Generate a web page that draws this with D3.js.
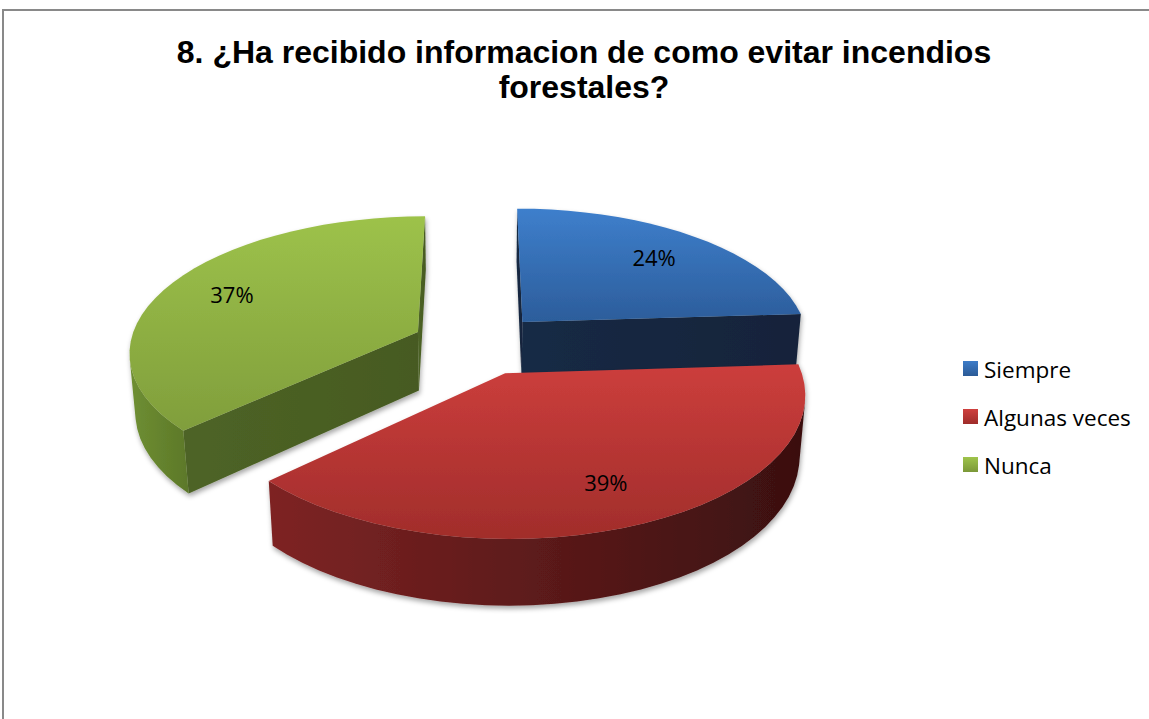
<!DOCTYPE html>
<html>
<head>
<meta charset="utf-8">
<script src="https://cdn.jsdelivr.net/npm/d3@7"></script>
<style>
  body { margin: 0; background: #fff; }
  svg { display: block; }
</style>
</head>
<body>
<div id="graf"></div>
<script>
// -- Datos del gráfico
categorias = ['Siempre', 'Algunas veces', 'Nunca']
valores = [24, 39, 37]
titulo = ['8. ¿Ha recibido informacion de como evitar incendios', 'forestales?']

// -- Colores por categoría
colores = {
  'Siempre':       { top: ['#3e7fcc', '#2c5d9b'], side: ['#22426f', '#14263f'], cut: ['#162a45', '#13233a'], leg: ['#3d7cc8', '#2b5a96'] },
  'Algunas veces': { top: ['#cc3e3c', '#a12d2b'], side: ['#7e2424', '#3a1010'], cut: ['#5c1919', '#4a1414'], leg: ['#cf403e', '#9e2c2a'] },
  'Nunca':         { top: ['#9dc24a', '#809e3c'], side: ['#6f8f32', '#5c7829'], cut: ['#4e6426', '#465a21'], leg: ['#9fc44b', '#7b9838'] }
}

ancho = 1149
alto = 719

svg = d3.select('#graf').append('svg')
        .attr('width', ancho)
        .attr('height', alto)

defs = svg.append('defs')

// -- Sombra suave bajo las porciones
sombra = defs.append('filter')
    .attr('id', 'sombra')
    .attr('x', '-10%').attr('y', '-10%')
    .attr('width', '120%').attr('height', '130%')
sombra.append('feDropShadow')
    .attr('dx', 1).attr('dy', 3)
    .attr('stdDeviation', 2.5)
    .attr('flood-color', '#000')
    .attr('flood-opacity', 0.35)

function gradiente(id, c, vertical) {
  const lg = defs.append('linearGradient')
      .attr('id', id)
      .attr('x1', 0).attr('y1', 0)
      .attr('x2', vertical ? 0 : 1).attr('y2', vertical ? 1 : 0)
  lg.append('stop').attr('offset', '0%').attr('stop-color', c[0])
  lg.append('stop').attr('offset', '100%').attr('stop-color', c[1])
}

categorias.forEach((c, i) => {
  gradiente(`top${i}`, colores[c].top, true)
  gradiente(`side${i}`, colores[c].side, false)
  gradiente(`cut${i}`, colores[c].cut, false)
  gradiente(`leg${i}`, colores[c].leg, true)
})

// -- Marco del gráfico
svg.append('rect')
    .attr('x', 3).attr('y', 10)
    .attr('width', ancho + 20).attr('height', alto + 20)
    .attr('fill', 'none')
    .attr('stroke', '#898989')
    .attr('stroke-width', 2)

// -- Título
svg.append('text')
    .attr('x', 584)
    .attr('text-anchor', 'middle')
    .attr('font-family', '"Liberation Sans", Arial, sans-serif')
    .attr('font-weight', 'bold')
    .attr('font-size', '32px')
    .attr('fill', '#000')
  .selectAll('tspan')
  .data(titulo)
  .join('tspan')
    .attr('x', 584)
    .attr('y', (d, i) => 63 + i * 35)
    .text(d => d)

// -- Proyección 3D (perspectiva)
cx = 478
cy = 344
focal = 1870
dist = 6.49
phi = 27.8 * Math.PI / 180
alturaPie = 0.236
separacion = 0.23
radioEtiqueta = 0.75
pasos = 90

cam = [0, dist * Math.sin(phi), -dist * Math.cos(phi)]

function proj(p) {
  const [X, Y, Z] = p
  const yc = Y * Math.cos(phi) + Z * Math.sin(phi)
  const zc = Z * Math.cos(phi) - Y * Math.sin(phi)
  const s = focal / (dist + zc)
  return [cx + X * s, cy - yc * s]
}

function visible(n, p) {
  return n[0] * (cam[0] - p[0]) + n[1] * (cam[1] - p[1]) + n[2] * (cam[2] - p[2]) > 0
}

linea = d3.line()

arcos = d3.pie().sort(null).value(d => d)(valores)

porciones = arcos.map((d, i) => {
  const mid = (d.startAngle + d.endAngle) / 2
  const ox = separacion * Math.sin(mid)
  const oz = separacion * Math.cos(mid)
  const pt = (a, r, y) => [ox + r * Math.sin(a), y, oz + r * Math.cos(a)]
  return { d, i, mid, ox, oz, pt }
})

// -- Se dibuja de atrás hacia adelante
orden = porciones.slice().sort((a, b) => b.oz - a.oz)

orden.forEach(p => {
  const { d, i, pt } = p
  const a0 = d.startAngle, a1 = d.endAngle
  const g = svg.append('g').attr('filter', 'url(#sombra)')
  const H = -alturaPie

  // caras radiales
  const cortes = [
    { a: a0, n: [-Math.cos(a0), 0, Math.sin(a0)] },
    { a: a1, n: [Math.cos(a1), 0, -Math.sin(a1)] }
  ]
  cortes.forEach(c => {
    const centro = pt(c.a, 0.5, H / 2)
    if (!visible(c.n, centro)) return
    const quad = [pt(c.a, 0, 0), pt(c.a, 1, 0), pt(c.a, 1, H), pt(c.a, 0, H)].map(proj)
    g.append('path')
        .attr('d', linea(quad) + 'Z')
        .attr('fill', `url(#cut${i})`)
  })

  // pared exterior (solo tramos visibles)
  const n = Math.max(2, Math.ceil(pasos * (a1 - a0) / (2 * Math.PI)))
  const ang = d3.range(n + 1).map(k => a0 + (a1 - a0) * k / n)
  let tramo = []
  const tramos = []
  for (let k = 0; k < n; k++) {
    const am = (ang[k] + ang[k + 1]) / 2
    const vis = visible([Math.sin(am), 0, Math.cos(am)], pt(am, 1, H / 2))
    if (vis) {
      if (!tramo.length) tramo.push(ang[k])
      tramo.push(ang[k + 1])
    } else if (tramo.length) {
      tramos.push(tramo); tramo = []
    }
  }
  if (tramo.length) tramos.push(tramo)
  tramos.forEach(t => {
    const arriba = t.map(a => proj(pt(a, 1, 0)))
    const abajo = t.slice().reverse().map(a => proj(pt(a, 1, H)))
    g.append('path')
        .attr('d', linea(arriba.concat(abajo)) + 'Z')
        .attr('fill', `url(#side${i})`)
  })

  // cara superior
  const sup = [proj(pt(a0, 0, 0))].concat(ang.map(a => proj(pt(a, 1, 0))))
  g.append('path')
      .attr('d', linea(sup) + 'Z')
      .attr('fill', `url(#top${i})`)
})

// -- Etiquetas de porcentaje
total = d3.sum(valores)
svg.append('g')
  .selectAll('text')
  .data(porciones)
  .join('text')
    .attr('x', p => proj(p.pt(p.mid, radioEtiqueta, 0))[0])
    .attr('y', p => proj(p.pt(p.mid, radioEtiqueta, 0))[1])
    .attr('text-anchor', 'middle')
    .attr('dominant-baseline', 'central')
    .attr('font-family', '"Open Sans", Carlito, Calibri, sans-serif')
    .attr('font-size', '22px')
    .attr('fill', '#000')
    .text(p => `${Math.round(p.d.value / total * 100)}%`)

// -- Leyenda
leyenda = svg.append('g')
    .attr('transform', 'translate(963, 361)')
items = leyenda.selectAll('g')
  .data(categorias)
  .join('g')
    .attr('transform', (d, i) => `translate(0, ${i * 48})`)
items.append('rect')
    .attr('width', 15).attr('height', 15)
    .attr('fill', (d, i) => `url(#leg${i})`)
items.append('text')
    .attr('x', 21).attr('y', 8)
    .attr('dominant-baseline', 'central')
    .attr('font-family', '"Open Sans", Carlito, Calibri, sans-serif')
    .attr('font-size', '22.5px')
    .attr('fill', '#000')
    .text(d => d)
</script>
</body>
</html>
